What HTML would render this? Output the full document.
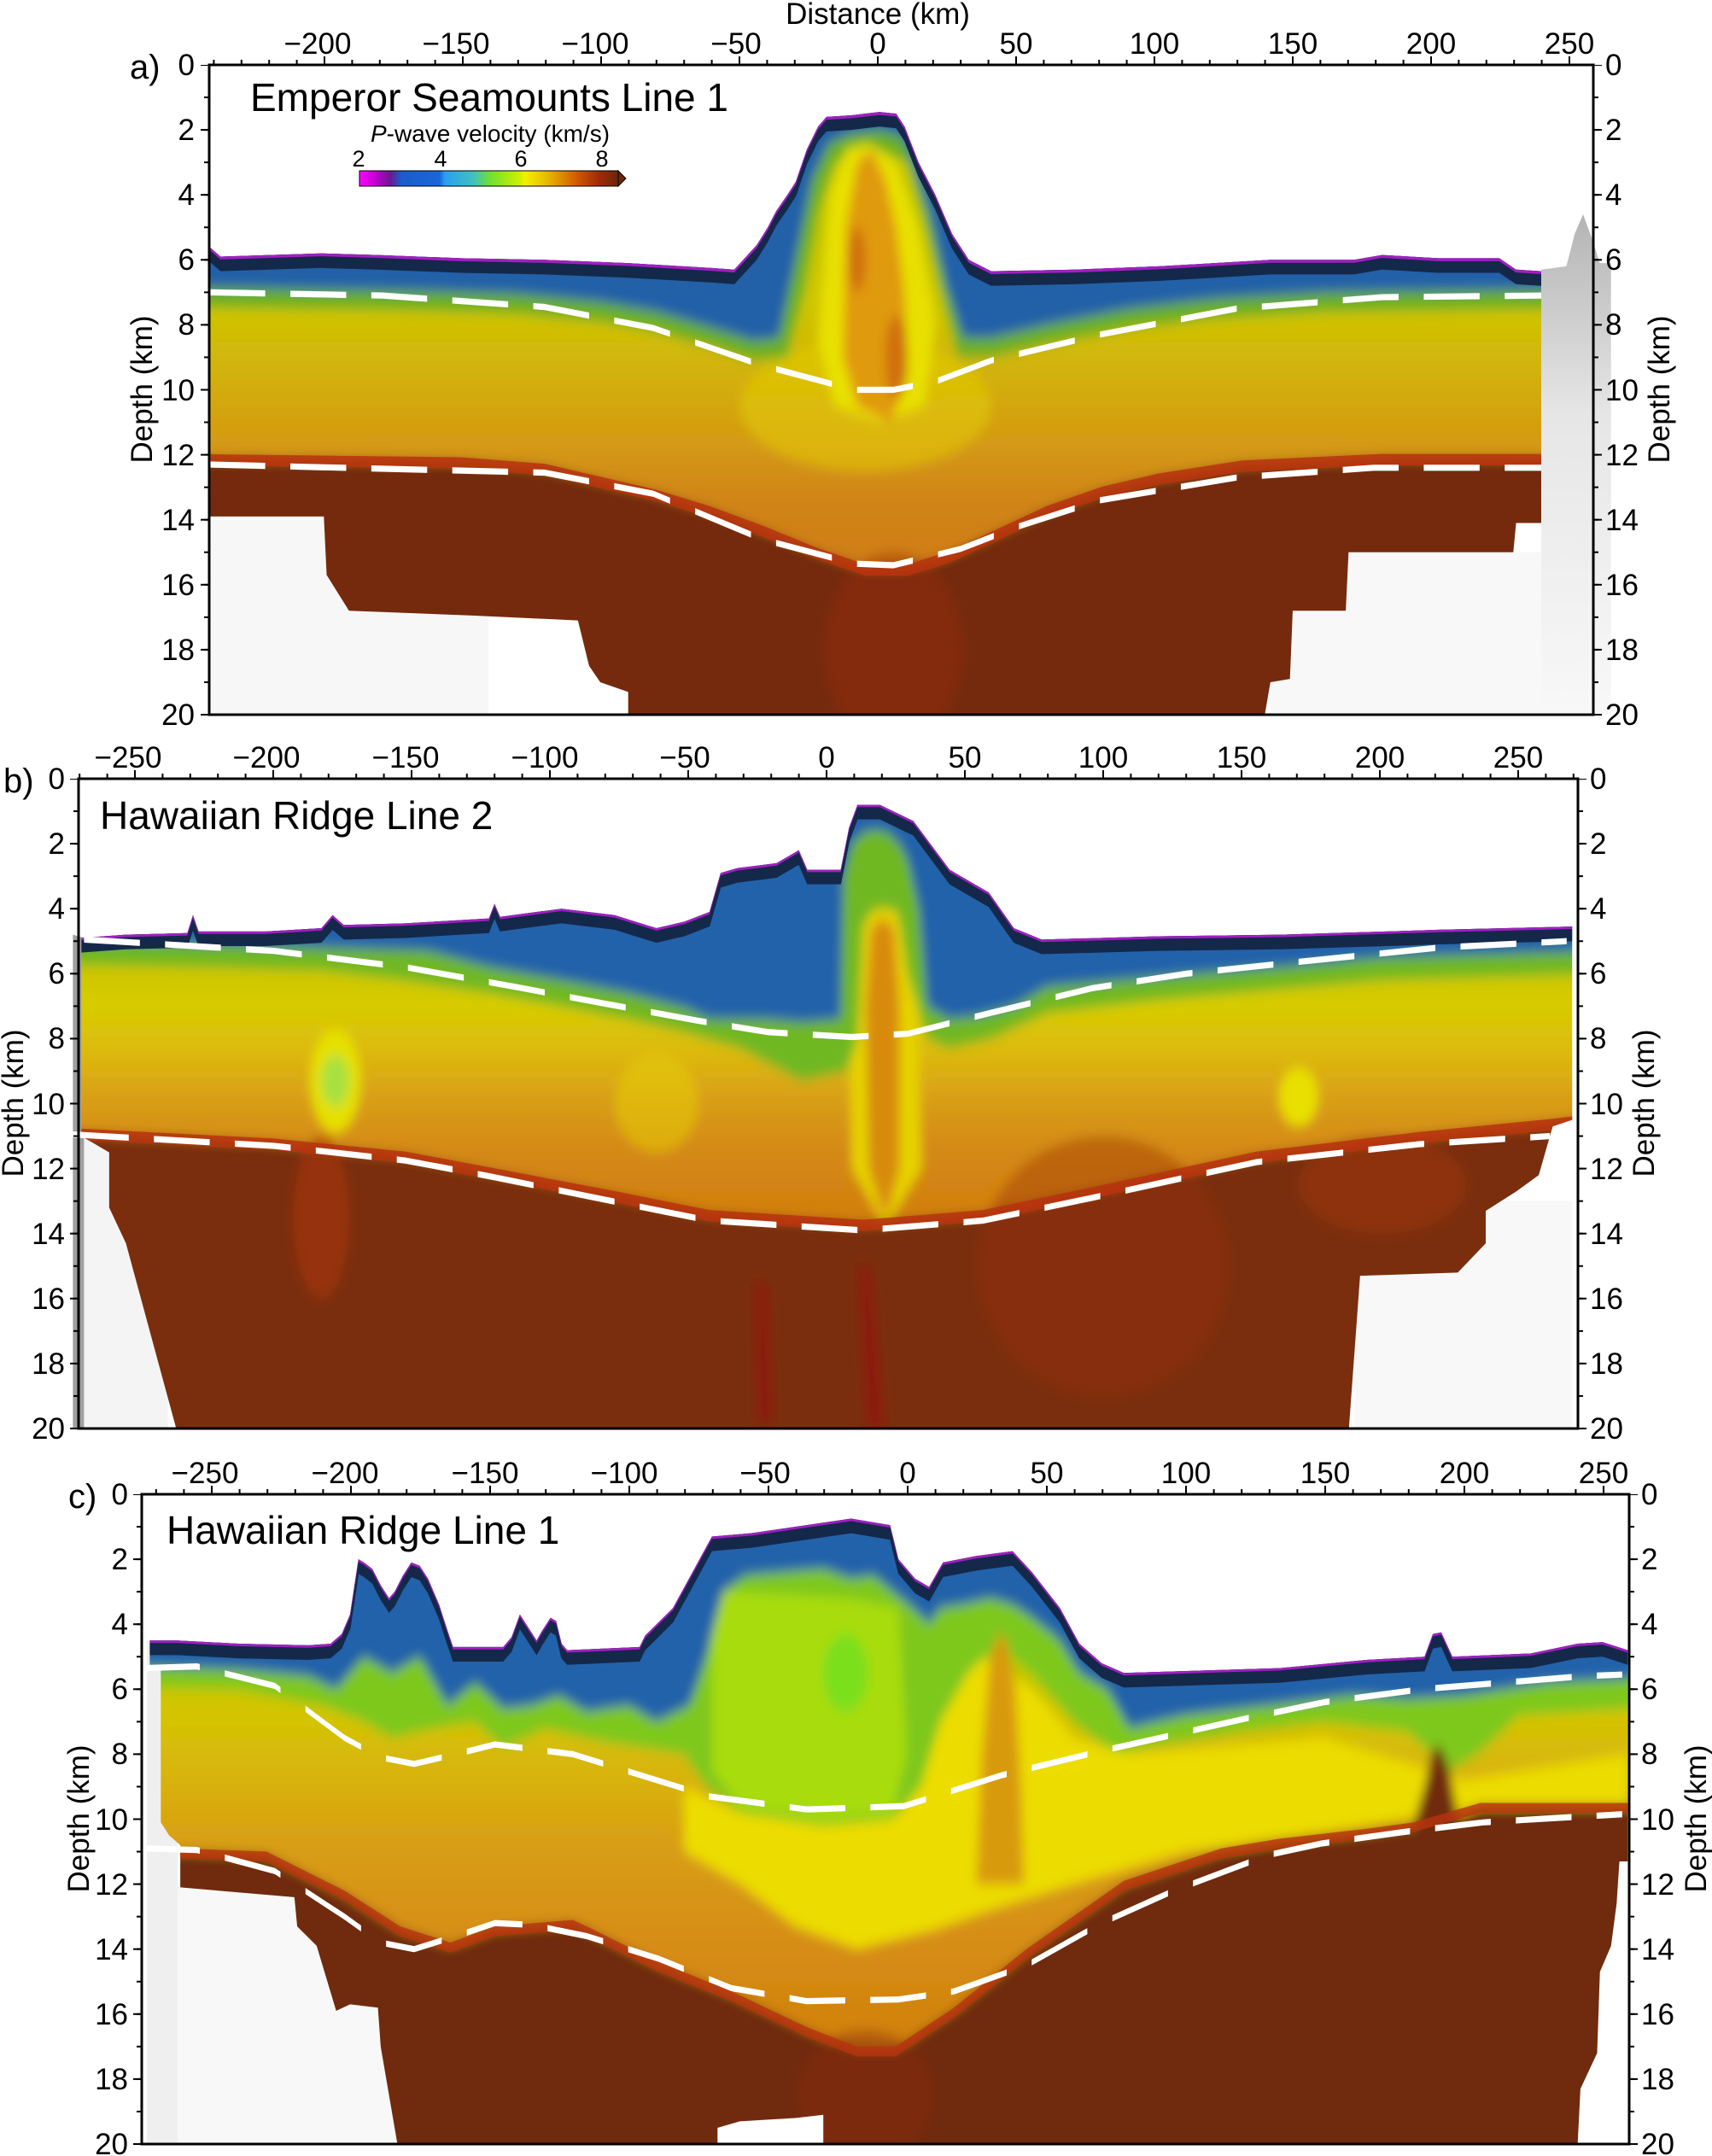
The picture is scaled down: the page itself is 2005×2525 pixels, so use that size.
<!DOCTYPE html>
<html><head><meta charset="utf-8"><style>
html,body{margin:0;padding:0;background:#fff}
svg{display:block}
text{font-family:"Liberation Sans",sans-serif;fill:#000}
.t{font-size:35px;text-anchor:middle}
.l{font-size:35px;text-anchor:end}
.r{font-size:35px;text-anchor:start}
.ttl{font-size:46px}
.pl{font-size:40px}
</style></head><body>
<svg width="2005" height="2525" viewBox="0 0 2005 2525" xmlns="http://www.w3.org/2000/svg">
<defs>
<filter id="bl" x="-0.2" y="-0.2" width="1.4" height="1.4"><feGaussianBlur stdDeviation="1.8 0.18"/></filter>
<linearGradient id="ga" gradientUnits="userSpaceOnUse" x1="0" y1="5" x2="0" y2="17">
<stop offset="0" stop-color="#c4c400"/><stop offset="0.2" stop-color="#cfc600"/><stop offset="0.35" stop-color="#d2b40a"/><stop offset="0.55" stop-color="#d49a12"/><stop offset="0.7" stop-color="#d08414"/><stop offset="1" stop-color="#d07814"/></linearGradient>
<linearGradient id="gb" gradientUnits="userSpaceOnUse" x1="0" y1="5" x2="0" y2="15">
<stop offset="0" stop-color="#c4c000"/><stop offset="0.2" stop-color="#d8cc00"/><stop offset="0.35" stop-color="#dcb810"/><stop offset="0.5" stop-color="#d89c14"/><stop offset="0.65" stop-color="#d48812"/><stop offset="1" stop-color="#d07810"/></linearGradient>
<linearGradient id="gc" gradientUnits="userSpaceOnUse" x1="0" y1="5" x2="0" y2="17">
<stop offset="0" stop-color="#bcc800"/><stop offset="0.15" stop-color="#d4c400"/><stop offset="0.3" stop-color="#d8b410"/><stop offset="0.5" stop-color="#d89c12"/><stop offset="0.75" stop-color="#d68c12"/><stop offset="1" stop-color="#d08010"/></linearGradient>
<linearGradient id="cb" x1="0" y1="0" x2="1" y2="0">
<stop offset="0" stop-color="#ff00ff"/><stop offset="0.063" stop-color="#c000d0"/><stop offset="0.12" stop-color="#6a1a90"/><stop offset="0.16" stop-color="#1a5ccc"/><stop offset="0.31" stop-color="#1a66d8"/><stop offset="0.33" stop-color="#2aa0f0"/><stop offset="0.44" stop-color="#40c0c0"/><stop offset="0.505" stop-color="#70e030"/><stop offset="0.62" stop-color="#d0f000"/><stop offset="0.64" stop-color="#f4f000"/><stop offset="0.716" stop-color="#e8c000"/><stop offset="0.84" stop-color="#d05a00"/><stop offset="0.926" stop-color="#a02a08"/><stop offset="1" stop-color="#6a2808"/></linearGradient>
<linearGradient id="wig" x1="0" y1="0" x2="0" y2="1"><stop offset="0" stop-color="#b4b4b4"/><stop offset="0.4" stop-color="#e6e6e6"/><stop offset="1" stop-color="#f8f8f8"/></linearGradient>
<pattern id="pxa" x="1027" y="0" width="32.4" height="3000" patternUnits="userSpaceOnUse"><rect width="2" height="3000"/></pattern>
<pattern id="pXa" x="1027" y="0" width="162" height="3000" patternUnits="userSpaceOnUse"><rect width="2" height="3000"/></pattern>
<pattern id="pxb" x="967" y="0" width="32.4" height="3000" patternUnits="userSpaceOnUse"><rect width="2" height="3000"/></pattern>
<pattern id="pXb" x="967" y="0" width="162" height="3000" patternUnits="userSpaceOnUse"><rect width="2" height="3000"/></pattern>
<pattern id="pxc" x="1062" y="0" width="32.6" height="3000" patternUnits="userSpaceOnUse"><rect width="2" height="3000"/></pattern>
<pattern id="pXc" x="1062" y="0" width="163" height="3000" patternUnits="userSpaceOnUse"><rect width="2" height="3000"/></pattern>
<pattern id="pya" x="0" y="75" width="3000" height="38.05" patternUnits="userSpaceOnUse"><rect width="3000" height="2"/></pattern>
<pattern id="pYa" x="0" y="75" width="3000" height="76.1" patternUnits="userSpaceOnUse"><rect width="3000" height="2"/></pattern>
<pattern id="pyb" x="0" y="911" width="3000" height="38.05" patternUnits="userSpaceOnUse"><rect width="3000" height="2"/></pattern>
<pattern id="pYb" x="0" y="911" width="3000" height="76.1" patternUnits="userSpaceOnUse"><rect width="3000" height="2"/></pattern>
<pattern id="pyc" x="0" y="1749" width="3000" height="38.05" patternUnits="userSpaceOnUse"><rect width="3000" height="2"/></pattern>
<pattern id="pYc" x="0" y="1749" width="3000" height="76.1" patternUnits="userSpaceOnUse"><rect width="3000" height="2"/></pattern>
<clipPath id="ca"><polygon points="-240,5.6 -236,5.9 -200,5.8 -180,5.85 -150,5.95 -120,6.0 -90,6.1 -60,6.25 -52,6.3 -44,5.55 -40,5.0 -37,4.5 -33,4.0 -30,3.6 -26,2.6 -22,1.9 -19,1.6 -10,1.55 0,1.45 6,1.5 9,1.9 14,3.0 20,4.0 26,5.2 32,6.0 40,6.35 70,6.3 100,6.2 140,6.0 170,6.0 180,5.85 200,5.95 222,5.95 228,6.3 237,6.35 237,14.1 228,14.1 227,15 168,15 167,16.8 148,16.8 147,18.9 140,19 138,20 -90,20 -90,19.3 -100,19.0 -104,18.5 -108,17.1 -145,16.95 -190,16.8 -198,15.7 -199,13.9 -240,13.9"/></clipPath>
<clipPath id="cbp"><polygon points="-266,4.9 -250,4.8 -228,4.75 -226,4.2 -224,4.7 -200,4.7 -180,4.6 -176,4.2 -172,4.5 -150,4.45 -130,4.35 -120,4.3 -118,3.85 -116,4.25 -94,4.0 -75,4.2 -60,4.6 -50,4.4 -41,4.1 -37,2.9 -31,2.75 -17,2.6 -9,2.2 -6,2.8 6,2.8 9,1.5 12,0.8 20,0.8 32,1.3 45,2.8 59,3.5 68,4.6 78,4.95 120,4.85 164,4.8 220,4.65 268,4.55 268,10.5 261,10.7 256,12.2 248,12.7 237,13.3 237,14.3 227,15.2 192,15.3 188,20 -232,20 -238,18.1 -250,14.3 -256,13.2 -256,11.5 -266,11.0"/></clipPath>
<clipPath id="ccp"><polygon points="-272,4.5 -262,4.5 -240,4.6 -215,4.65 -207,4.6 -203,4.3 -200,3.7 -197,2.0 -195,2.1 -192,2.3 -189,2.8 -186,3.2 -184,3.0 -181,2.5 -178,2.1 -175,2.2 -172,2.6 -168,3.4 -165,4.2 -163,4.7 -145,4.7 -142,4.4 -139,3.7 -136,4.1 -133,4.5 -131,4.2 -128,3.8 -126,3.9 -124,4.6 -122,4.8 -96,4.7 -94,4.35 -84,3.5 -77,2.4 -70,1.3 -56,1.2 -20,0.75 -6,0.95 -3,2.0 3,2.6 8,2.85 13,2.1 25,1.9 38,1.75 45,2.4 55,3.5 62,4.6 70,5.2 78,5.5 134,5.35 165,5.1 186,5.0 189,4.3 192,4.25 196,5.0 224,4.9 241,4.6 250,4.55 259,4.8 259,11.3 256,11.3 255,12.6 253,13.9 249,14.7 248,17.2 242,18.3 241,20 -30,20 -30,19.1 -40,19.2 -60,19.3 -68,19.5 -68,20 -183,20 -189,17.0 -190,15.8 -200,15.7 -205,15.9 -212,13.9 -219,13.3 -220,12.4 -261,12.1 -261,10.8 -265,10.5 -268,10.1 -268,5.4 -272,5.35"/></clipPath>
</defs>
<rect width="2005" height="2525" fill="#fff"/>

<!-- ================= PANEL A ================= -->
<g transform="translate(1030,76) scale(3.27,38.05)">
  <rect x="-240" y="14" width="100" height="6" fill="#f7f7f7"/>
  <rect x="140" y="15" width="97" height="5" fill="#f8f8f8"/>
  <polygon points="237,6.3 246,6.2 249,5.2 252,4.6 255,5.3 258,6.1 262,6.1 262,20 237,20" fill="url(#wig)"/>
  <g clip-path="url(#ca)">
    <g filter="url(#bl)">
      <rect x="-250" y="0" width="500" height="21" fill="url(#ga)"/>
      <ellipse cx="-5" cy="10.5" rx="45" ry="2" fill="#e4d000" opacity="0.5"/>
      <polygon fill="#6ab020" points="250,0 250,7.5 160,7.6 120,7.8 90,8.1 60,8.6 40,9.0 28,9 22,7 16,4.8 10,3.0 0,2.6 -10,2.7 -16,3 -22,4.5 -27,7 -33,9.0 -45,9.1 -60,8.7 -80,8.2 -100,7.9 -130,7.65 -170,7.55 -250,7.45 -250,0"/>
      <polygon fill="#e8e000" points="-22,8.5 -18,4 -12,2.6 -4,2.4 6,3 14,5 20,8 16,10.5 0,11 -16,10.5"/>
      <polygon fill="#2460a8" points="250,0 250,6.9 200,6.95 160,7.0 120,7.2 90,7.5 60,8.0 40,8.4 30,8.4 24,6.8 18,4.6 12,3.0 8,2.2 0,2.0 -10,2.1 -18,2.4 -24,3.5 -30,6 -36,8.4 -45,8.5 -60,8.1 -80,7.6 -100,7.3 -130,7.05 -170,6.95 -250,6.85 -250,0"/>
      <polygon fill="#e09a10" points="-13,9 -12,5 -8,3 -3,2.6 2,3.5 6,5 9,7 10,9.5 4,11 -8,10.5"/>
      <ellipse cx="-8" cy="6" rx="3" ry="1" fill="#d0700a"/>
      <ellipse cx="6" cy="9" rx="4" ry="1.3" fill="#d07010"/>
      <polygon fill="#74290b" points="-250,12.1 -150,12.2 -120,12.4 -100,12.8 -80,13.2 -61,13.7 -42,14.3 -22,15.0 -5,15.5 10,15.5 25,15.1 40,14.5 60,13.7 80,13.1 100,12.7 130,12.3 180,12.1 250,12.1 250,21 -250,21"/>
      <ellipse cx="5" cy="18" rx="25" ry="3" fill="#9a300e" opacity="0.45"/>
    </g>
    <polyline fill="none" stroke="#b8330f" stroke-width="0.35" opacity="0.85" points="-250,12.15 -150,12.25 -120,12.45 -100,12.85 -80,13.25 -61,13.75 -42,14.35 -22,15.05 -5,15.55 10,15.55 25,15.15 40,14.55 60,13.75 80,13.15 100,12.75 130,12.35 180,12.15 250,12.15"/>
    <polyline fill="none" stroke="#14284a" stroke-width="0.9" points="-240,5.6 -236,5.9 -200,5.8 -180,5.85 -150,5.95 -120,6.0 -90,6.1 -60,6.25 -52,6.3 -44,5.55 -40,5.0 -37,4.5 -33,4.0 -30,3.6 -26,2.6 -22,1.9 -19,1.6 -10,1.55 0,1.45 6,1.5 9,1.9 14,3.0 20,4.0 26,5.2 32,6.0 40,6.35 70,6.3 100,6.2 140,6.0 170,6.0 180,5.85 200,5.95 222,5.95 228,6.3 237,6.35"/>
    <polyline fill="none" stroke="#a020c0" stroke-width="0.18" points="-240,5.6 -236,5.9 -200,5.8 -180,5.85 -150,5.95 -120,6.0 -90,6.1 -60,6.25 -52,6.3 -44,5.55 -40,5.0 -37,4.5 -33,4.0 -30,3.6 -26,2.6 -22,1.9 -19,1.6 -10,1.55 0,1.45 6,1.5 9,1.9 14,3.0 20,4.0 26,5.2 32,6.0 40,6.35 70,6.3 100,6.2 140,6.0 170,6.0 180,5.85 200,5.95 222,5.95 228,6.3 237,6.35"/>
  </g>
  <g fill="none" stroke="#fff" stroke-width="0.19" stroke-dasharray="20 9">
    <polyline points="-240,7.0 -178,7.1 -120,7.45 -81,8.1 -42,9.25 -9,10.0 5,10.0 20,9.75 40,9.1 79,8.3 128,7.5 180,7.15 237,7.1"/>
    <polyline points="-240,12.3 -120,12.55 -81,13.2 -42,14.6 -9,15.35 5,15.4 29,14.9 50,14.2 79,13.4 128,12.7 177,12.4 237,12.4"/>
  </g>
</g>
<!-- axes a -->
<rect x="245" y="66" width="1621" height="10" fill="url(#pXa)"/>
<rect x="245" y="70" width="1621" height="6" fill="url(#pxa)"/>
<rect x="235" y="76" width="10" height="762" fill="url(#pYa)"/>
<rect x="239" y="76" width="6" height="762" fill="url(#pya)"/>
<rect x="1866" y="76" width="10" height="762" fill="url(#pYa)"/>
<rect x="1866" y="76" width="6" height="762" fill="url(#pya)"/>
<rect x="245" y="76" width="1621" height="761" fill="none" stroke="#000" stroke-width="3"/>
<text x="1028" y="28" class="t">Distance (km)</text>
<g><text x="372" y="63" class="t">−200</text><text x="534" y="63" class="t">−150</text><text x="697" y="63" class="t">−100</text><text x="862" y="63" class="t">−50</text><text x="1028" y="63" class="t">0</text><text x="1190" y="63" class="t">50</text><text x="1352" y="63" class="t">100</text><text x="1514" y="63" class="t">150</text><text x="1676" y="63" class="t">200</text><text x="1838" y="63" class="t">250</text></g>
<g><text x="228" y="88" class="l">0</text><text x="228" y="164" class="l">2</text><text x="228" y="240" class="l">4</text><text x="228" y="316" class="l">6</text><text x="228" y="392" class="l">8</text><text x="228" y="469" class="l">10</text><text x="228" y="545" class="l">12</text><text x="228" y="621" class="l">14</text><text x="228" y="697" class="l">16</text><text x="228" y="773" class="l">18</text><text x="228" y="849" class="l">20</text></g>
<g><text x="1880" y="88" class="r">0</text><text x="1880" y="164" class="r">2</text><text x="1880" y="240" class="r">4</text><text x="1880" y="316" class="r">6</text><text x="1880" y="392" class="r">8</text><text x="1880" y="469" class="r">10</text><text x="1880" y="545" class="r">12</text><text x="1880" y="621" class="r">14</text><text x="1880" y="697" class="r">16</text><text x="1880" y="773" class="r">18</text><text x="1880" y="849" class="r">20</text></g>
<text transform="translate(178,456) rotate(-90)" class="t">Depth (km)</text>
<text transform="translate(1955,456) rotate(-90)" class="t">Depth (km)</text>
<text x="152" y="92" class="pl">a)</text>
<text x="293" y="130" class="ttl">Emperor Seamounts Line 1</text>
<text x="574" y="166" style="font-size:28px;text-anchor:middle"><tspan font-style="italic">P</tspan>-wave velocity (km/s)</text>
<g style="font-size:27px;text-anchor:middle"><text x="420" y="195">2</text><text x="516" y="195">4</text><text x="610" y="195">6</text><text x="705" y="195">8</text></g>
<rect x="421" y="200" width="303" height="18" fill="url(#cb)" stroke="#000" stroke-width="1"/>
<polygon points="724,200 733,209 724,218" fill="#6a2808" stroke="#000" stroke-width="1"/>

<!-- ================= PANEL B ================= -->
<g transform="translate(965,912) scale(3.27,38.05)">
  <polygon points="-269,4.8 -265,4.9 -265,20 -269,20" fill="#a0a0a0"/>
  <rect x="-265" y="11" width="30" height="9" fill="#f4f4f4"/>
  <rect x="190" y="13" width="78" height="7" fill="#f8f8f8"/>
  <g clip-path="url(#cbp)">
    <g filter="url(#bl)">
      <rect x="-280" y="0" width="560" height="21" fill="url(#gb)"/>
      <ellipse cx="-175" cy="9.3" rx="9" ry="1.6" fill="#e6e000"/>
      <ellipse cx="-175" cy="9.3" rx="5" ry="0.8" fill="#a8e040"/>
      <ellipse cx="170" cy="9.8" rx="7" ry="0.9" fill="#e8e000"/>
      <ellipse cx="-60" cy="10" rx="15" ry="1.5" fill="#e8d000" opacity="0.5"/>
      <polygon fill="#e6d200" points="10,12 9,6 14,3.6 26,3.6 33,6 35,12 22,13.8"/>
      <polygon fill="#70b820" points="280,0 280,6.0 200,6.2 160,6.5 120,6.8 80,7.2 60,8 45,8.3 37,8 30,6 27,4.3 25,4 18,4 14,4.5 12,8 8,9 -8,9.3 -30,8.3 -50,7.8 -70,7.4 -94,7.0 -120,6.6 -150,6.2 -180,5.9 -220,5.8 -280,5.7 -280,0"/>
      <polygon fill="#2462aa" points="280,0 280,5.3 200,5.5 164,5.8 120,6.1 80,6.4 68,7.0 55,7.3 45,7.4 37,7.0 34,4 30,2.5 27,2 22,1.6 15,1.6 10,2.0 7,3 6,7.4 -8,7.5 -20,7.4 -41,7.4 -50,7.05 -70,6.6 -94,6.2 -120,5.8 -142,5.3 -180,5.2 -220,5.1 -280,5.0 -280,0"/>
      <polygon fill="#d88a10" points="16,12 15,7 17,4.6 21,4.3 25,4.6 27,7 27,12 22,13.6"/>
      <polygon fill="#7a2e0e" points="-280,10.9 -265,10.9 -197,11.2 -150,11.6 -119,12.1 -76,12.8 -41,13.4 14,13.7 57,13.4 96,12.7 155,11.6 213,11.0 260,10.6 280,10.4 280,21 -280,21"/>
      <ellipse cx="-180" cy="13.5" rx="10" ry="2.5" fill="#a83210" opacity="0.6"/>
      <ellipse cx="100" cy="15" rx="45" ry="4" fill="#983210" opacity="0.4"/>
      <ellipse cx="200" cy="12.5" rx="30" ry="1.5" fill="#a03510" opacity="0.5"/>
      <polygon fill="#8a1e08" points="-25,15.5 -20,15.5 -18,19.8 -24,19.8"/>
      <polygon fill="#8a1e08" points="12,15 17,15 22,20 15,20"/>
    </g>
    <polyline fill="none" stroke="#b8330f" stroke-width="0.35" opacity="0.85" points="-280,10.95 -265,10.95 -197,11.25 -150,11.65 -119,12.15 -76,12.85 -41,13.45 14,13.75 57,13.45 96,12.75 155,11.65 213,11.05 260,10.65 280,10.45"/>
    <polyline fill="none" stroke="#14284a" stroke-width="0.9" points="-266,4.9 -250,4.8 -228,4.75 -226,4.2 -224,4.7 -200,4.7 -180,4.6 -176,4.2 -172,4.5 -150,4.45 -130,4.35 -120,4.3 -118,3.85 -116,4.25 -94,4.0 -75,4.2 -60,4.6 -50,4.4 -41,4.1 -37,2.9 -31,2.75 -17,2.6 -9,2.2 -6,2.8 6,2.8 9,1.5 12,0.8 20,0.8 32,1.3 45,2.8 59,3.5 68,4.6 78,4.95 120,4.85 164,4.8 220,4.65 268,4.55"/>
    <polyline fill="none" stroke="#a020c0" stroke-width="0.15" points="-266,4.9 -250,4.8 -228,4.75 -226,4.2 -224,4.7 -200,4.7 -180,4.6 -176,4.2 -172,4.5 -150,4.45 -130,4.35 -120,4.3 -118,3.85 -116,4.25 -94,4.0 -75,4.2 -60,4.6 -50,4.4 -41,4.1 -37,2.9 -31,2.75 -17,2.6 -9,2.2 -6,2.8 6,2.8 9,1.5 12,0.8 20,0.8 32,1.3 45,2.8 59,3.5 68,4.6 78,4.95 120,4.85 164,4.8 220,4.65 268,4.55"/>
  </g>
  <g fill="none" stroke="#fff" stroke-width="0.19" stroke-dasharray="20 9">
    <polyline points="-265,4.95 -197,5.3 -150,5.8 -111,6.4 -80,6.9 -45,7.45 -20,7.8 10,7.95 30,7.85 60,7.2 96,6.45 130,6.0 174,5.6 220,5.2 266,5.0"/>
    <polyline points="-269,10.95 -197,11.3 -150,11.75 -119,12.25 -76,13.0 -41,13.6 14,13.9 57,13.6 96,12.9 155,11.8 213,11.25 260,11.0"/>
  </g>
</g>
<!-- axes b -->
<rect x="92" y="902" width="1756" height="10" fill="url(#pXb)"/>
<rect x="92" y="906" width="1756" height="6" fill="url(#pxb)"/>
<rect x="82" y="912" width="10" height="762" fill="url(#pYb)"/>
<rect x="86" y="912" width="6" height="762" fill="url(#pyb)"/>
<rect x="1848" y="912" width="10" height="762" fill="url(#pYb)"/>
<rect x="1848" y="912" width="6" height="762" fill="url(#pyb)"/>
<rect x="92" y="912" width="1756" height="761" fill="none" stroke="#000" stroke-width="3"/>
<g><text x="150" y="899" class="t">−250</text><text x="312" y="899" class="t">−200</text><text x="475" y="899" class="t">−150</text><text x="638" y="899" class="t">−100</text><text x="802" y="899" class="t">−50</text><text x="968" y="899" class="t">0</text><text x="1130" y="899" class="t">50</text><text x="1292" y="899" class="t">100</text><text x="1454" y="899" class="t">150</text><text x="1616" y="899" class="t">200</text><text x="1778" y="899" class="t">250</text></g>
<g><text x="76" y="924" class="l">0</text><text x="76" y="1000" class="l">2</text><text x="76" y="1076" class="l">4</text><text x="76" y="1152" class="l">6</text><text x="76" y="1228" class="l">8</text><text x="76" y="1305" class="l">10</text><text x="76" y="1381" class="l">12</text><text x="76" y="1457" class="l">14</text><text x="76" y="1533" class="l">16</text><text x="76" y="1609" class="l">18</text><text x="76" y="1685" class="l">20</text></g>
<g><text x="1862" y="924" class="r">0</text><text x="1862" y="1000" class="r">2</text><text x="1862" y="1076" class="r">4</text><text x="1862" y="1152" class="r">6</text><text x="1862" y="1228" class="r">8</text><text x="1862" y="1305" class="r">10</text><text x="1862" y="1381" class="r">12</text><text x="1862" y="1457" class="r">14</text><text x="1862" y="1533" class="r">16</text><text x="1862" y="1609" class="r">18</text><text x="1862" y="1685" class="r">20</text></g>
<text transform="translate(27,1292) rotate(-90)" class="t">Depth (km)</text>
<text transform="translate(1937,1292) rotate(-90)" class="t">Depth (km)</text>
<text x="4" y="928" class="pl">b)</text>
<text x="117" y="971" class="ttl">Hawaiian Ridge Line 2</text>

<!-- ================= PANEL C ================= -->
<g transform="translate(1062,1750) scale(3.26,38.05)">
  <rect x="-273" y="4.5" width="11" height="15.5" fill="#efefef"/>
  <rect x="-262" y="12" width="80" height="8" fill="#f8f8f8"/>
  <g clip-path="url(#ccp)">
    <g filter="url(#bl)">
      <rect x="-280" y="0" width="560" height="21" fill="url(#gc)"/>
      <polygon fill="#7ec81c" points="280,0 280,6.5 220,6.8 205,8.0 195,8.5 180,7.3 150,7.0 120,7.3 85,7.8 75,8.0 60,7 45,5.5 38,5 30,5 20,6 12,7 5,9 -5,10 -30,10.2 -60,9.8 -72,9.0 -80,8.0 -95,7.8 -110,7.6 -130,7.2 -145,7.8 -155,7.0 -170,7.2 -185,7.5 -195,7.0 -210,6.5 -240,6.0 -280,5.9 -280,0"/>
      <polygon fill="#a8dc10" points="-70,3 -60,3 -20,3.2 -3,3.5 0,8 -5,9.8 -30,10 -60,9.6 -70,8.5"/>
      <ellipse cx="-22" cy="5.5" rx="8" ry="1.2" fill="#70e020" opacity="0.8"/>
      <polygon fill="#ecdc00" points="-80,9 -60,9.8 -30,10.2 -5,10 5,9 12,7 22,5.5 28,5 45,6 60,7.5 80,8 110,7.8 150,7.5 200,8.8 259,8.0 259,9.6 206,9.6 150,10.4 100,11.0 60,12 30,12.8 10,13.4 -18,14 -40,13.3 -60,12 -80,11"/>
      <polygon fill="#2462aa" points="280,0 280,5.6 230,5.8 200,6.2 180,6.3 160,6.2 130,6.5 100,6.8 80,7.2 72,6 62,5.5 55,4.5 45,3.8 38,3.4 30,3.2 20,3.4 12,3.5 8,4 2,3.5 -5,3 -12,2.5 -20,2.6 -30,2.3 -45,2.4 -58,2.5 -66,3.0 -72,5 -78,6.5 -90,7.0 -100,6.5 -115,6.7 -125,6.2 -135,6.5 -145,6.6 -155,5.8 -165,6.5 -175,5.0 -185,5.5 -195,5 -205,6.0 -215,5.6 -240,5.4 -280,5.3 -280,0"/>
      <polygon fill="#d89a10" points="25,12 27,8 30,5 33,4.3 36,4.5 39,6 41,9 42,12"/>
      <polygon fill="#702a0a" points="-280,11.0 -261,11.0 -230,11.1 -202,12.3 -182,13.4 -164,13.9 -148,13.4 -120,13.2 -115,13.4 -89,14.5 -63,15.4 -36,16.5 -18,17.1 -4,17.1 17,15.9 43,14.1 78,12.0 113,11.0 134,10.7 165,10.4 182,10.2 186,9.0 189,7.8 192,7.8 195,8.5 198,10 206,9.6 280,9.6 280,21 -280,21"/>
      <ellipse cx="-15" cy="18.5" rx="25" ry="2" fill="#8a2a0c" opacity="0.45"/>
    </g>
    <polyline fill="none" stroke="#b8330f" stroke-width="0.3" opacity="0.8" points="-280,11.05 -261,11.05 -230,11.15 -202,12.35 -182,13.45 -164,13.95 -148,13.45 -120,13.25 -115,13.45 -89,14.55 -63,15.45 -36,16.55 -18,17.15 -4,17.15 17,15.95 43,14.15 78,12.05 113,11.05 134,10.75 165,10.45 182,10.25 206,9.65 280,9.65"/>
    <polyline fill="none" stroke="#14284a" stroke-width="0.9" points="-272,4.5 -262,4.5 -240,4.6 -215,4.65 -207,4.6 -203,4.3 -200,3.7 -197,2.0 -195,2.1 -192,2.3 -189,2.8 -186,3.2 -184,3.0 -181,2.5 -178,2.1 -175,2.2 -172,2.6 -168,3.4 -165,4.2 -163,4.7 -145,4.7 -142,4.4 -139,3.7 -136,4.1 -133,4.5 -131,4.2 -128,3.8 -126,3.9 -124,4.6 -122,4.8 -96,4.7 -94,4.35 -84,3.5 -77,2.4 -70,1.3 -56,1.2 -20,0.75 -6,0.95 -3,2.0 3,2.6 8,2.85 13,2.1 25,1.9 38,1.75 45,2.4 55,3.5 62,4.6 70,5.2 78,5.5 134,5.35 165,5.1 186,5.0 189,4.3 192,4.25 196,5.0 224,4.9 241,4.6 250,4.55 259,4.8"/>
    <polyline fill="none" stroke="#a020c0" stroke-width="0.15" points="-272,4.5 -262,4.5 -240,4.6 -215,4.65 -207,4.6 -203,4.3 -200,3.7 -197,2.0 -195,2.1 -192,2.3 -189,2.8 -186,3.2 -184,3.0 -181,2.5 -178,2.1 -175,2.2 -172,2.6 -168,3.4 -165,4.2 -163,4.7 -145,4.7 -142,4.4 -139,3.7 -136,4.1 -133,4.5 -131,4.2 -128,3.8 -126,3.9 -124,4.6 -122,4.8 -96,4.7 -94,4.35 -84,3.5 -77,2.4 -70,1.3 -56,1.2 -20,0.75 -6,0.95 -3,2.0 3,2.6 8,2.85 13,2.1 25,1.9 38,1.75 45,2.4 55,3.5 62,4.6 70,5.2 78,5.5 134,5.35 165,5.1 186,5.0 189,4.3 192,4.25 196,5.0 224,4.9 241,4.6 250,4.55 259,4.8"/>
  </g>
  <g fill="none" stroke="#fff" stroke-width="0.19" stroke-dasharray="20 9">
    <polyline points="-274,5.35 -255,5.3 -227,5.9 -202,7.5 -189,8.1 -177,8.3 -162,8.0 -148,7.7 -120,8.0 -71,9.3 -36,9.7 -1,9.6 34,8.65 70,7.9 122,6.9 150,6.4 185,6.0 214,5.8 243,5.6 257,5.55"/>
    <polyline points="-274,10.9 -255,10.95 -227,11.6 -202,13.0 -189,13.8 -177,14.0 -162,13.6 -148,13.2 -135,13.25 -115,13.6 -89,14.3 -63,15.2 -36,15.6 -3,15.55 17,15.3 43,14.5 70,13.2 96,12.2 130,11.1 149,10.75 178,10.4 207,10.1 236,9.95 257,9.85"/>
  </g>
</g>
<!-- axes c -->
<rect x="166" y="1740" width="1742" height="10" fill="url(#pXc)"/>
<rect x="166" y="1744" width="1742" height="6" fill="url(#pxc)"/>
<rect x="156" y="1750" width="10" height="762" fill="url(#pYc)"/>
<rect x="160" y="1750" width="6" height="762" fill="url(#pyc)"/>
<rect x="1908" y="1750" width="10" height="762" fill="url(#pYc)"/>
<rect x="1908" y="1750" width="6" height="762" fill="url(#pyc)"/>
<rect x="166" y="1750" width="1742" height="761" fill="none" stroke="#000" stroke-width="3"/>
<g><text x="240" y="1737" class="t">−250</text><text x="404" y="1737" class="t">−200</text><text x="568" y="1737" class="t">−150</text><text x="731" y="1737" class="t">−100</text><text x="896" y="1737" class="t">−50</text><text x="1063" y="1737" class="t">0</text><text x="1226" y="1737" class="t">50</text><text x="1389" y="1737" class="t">100</text><text x="1552" y="1737" class="t">150</text><text x="1715" y="1737" class="t">200</text><text x="1878" y="1737" class="t">250</text></g>
<g><text x="150" y="1762" class="l">0</text><text x="150" y="1838" class="l">2</text><text x="150" y="1914" class="l">4</text><text x="150" y="1990" class="l">6</text><text x="150" y="2066" class="l">8</text><text x="150" y="2143" class="l">10</text><text x="150" y="2219" class="l">12</text><text x="150" y="2295" class="l">14</text><text x="150" y="2371" class="l">16</text><text x="150" y="2447" class="l">18</text><text x="150" y="2523" class="l">20</text></g>
<g><text x="1922" y="1762" class="r">0</text><text x="1922" y="1838" class="r">2</text><text x="1922" y="1914" class="r">4</text><text x="1922" y="1990" class="r">6</text><text x="1922" y="2066" class="r">8</text><text x="1922" y="2143" class="r">10</text><text x="1922" y="2219" class="r">12</text><text x="1922" y="2295" class="r">14</text><text x="1922" y="2371" class="r">16</text><text x="1922" y="2447" class="r">18</text><text x="1922" y="2523" class="r">20</text></g>
<text transform="translate(104,2130) rotate(-90)" class="t">Depth (km)</text>
<text transform="translate(1998,2130) rotate(-90)" class="t">Depth (km)</text>
<text x="80" y="1766" class="pl">c)</text>
<text x="195" y="1808" class="ttl">Hawaiian Ridge Line 1</text>
</svg>
</body></html>
